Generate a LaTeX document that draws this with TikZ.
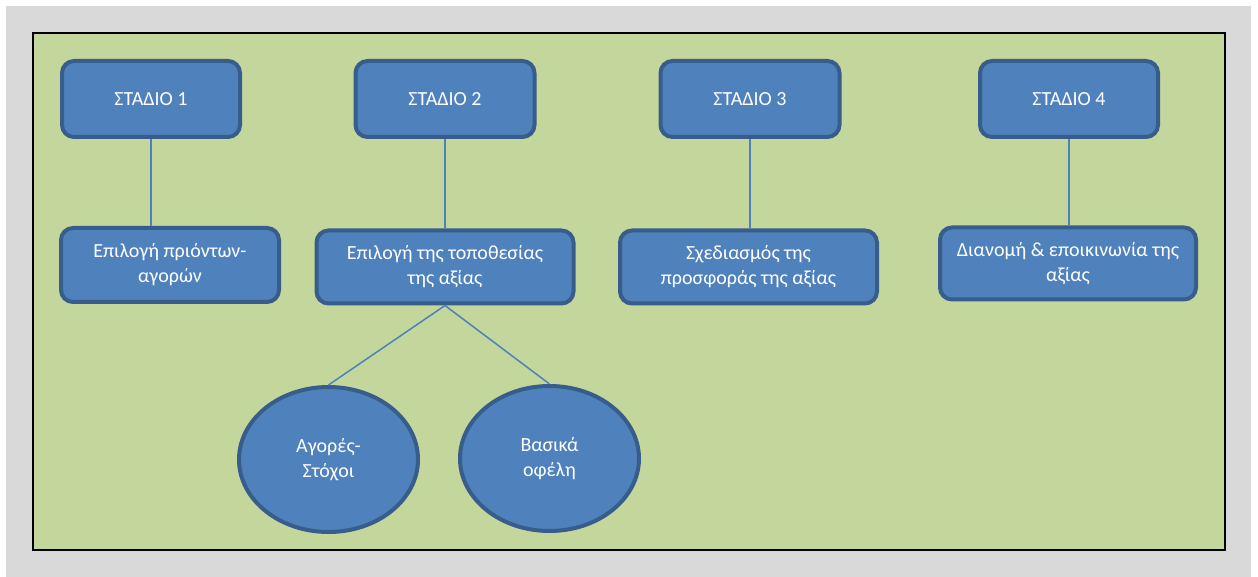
\documentclass[tikz,border=0pt]{standalone}
\usepackage{fontspec}
\setmainfont{Carlito}
\usetikzlibrary{shapes.geometric}
\definecolor{boxblue}{HTML}{4F81BD}
\definecolor{boxedge}{HTML}{385D8A}
\definecolor{panelgreen}{HTML}{C3D69B}
\definecolor{framegray}{HTML}{D9D9D9}
\tikzset{
	stage/.style={draw=boxedge,line width=4pt,fill=boxblue,rounded corners=12pt,text=white,
		font=\fontsize{20}{25}\selectfont,align=center,inner sep=0pt},
	goal/.style={ellipse,draw=boxedge,line width=4pt,fill=boxblue,text=white,
		font=\fontsize{20}{25}\selectfont,align=center,inner sep=0pt,
		minimum width=179pt,minimum height=145pt},
	link/.style={draw=boxblue,line width=1.5pt}
}
\begin{document}
\begin{tikzpicture}[x=1pt,y=-1pt]
	\useasboundingbox (0,0) rectangle (1258,577);
	\fill [white] (0,0) rectangle (1258,577);
	\fill [framegray] (6,6) rectangle (1251,577);
	\draw [line width=2.5pt,fill=panelgreen] (33,33) rectangle (1225,550);
	% stages
	\node [stage,minimum width=178pt,minimum height=76pt] (s1) at (151,99) {ΣΤΑΔΙΟ 1};
	\node [stage,minimum width=179pt,minimum height=76pt] (s2) at (445,99) {ΣΤΑΔΙΟ 2};
	\node [stage,minimum width=179pt,minimum height=76pt] (s3) at (750,99) {ΣΤΑΔΙΟ 3};
	\node [stage,minimum width=178pt,minimum height=76pt] (s4) at (1069,99) {ΣΤΑΔΙΟ 4};
	% steps
	\node [stage,minimum width=218pt,minimum height=74pt] (b1) at (170,265) {Επιλογή πριόντων-\\αγορών};
	\node [stage,minimum width=257pt,minimum height=73pt] (b2) at (445,267) {Επιλογή της τοποθεσίας\\της αξίας};
	\node [stage,minimum width=257pt,minimum height=73pt] (b3) at (748.5,267) {Σχεδιασμός της\\προσφοράς της αξίας};
	\node [stage,minimum width=256pt,minimum height=72pt] (b4) at (1068,263.5) {Διανομή \& εποικινωνία της\\αξίας};
	% targets
	\node [goal] (e1) at (328.5,459.5) {Αγορές-\\Στόχοι};
	\node [goal] (e2) at (549.5,458.5) {Βασικά\\οφέλη};
	\draw [link] (s1.south) -- (s1.south |- b1.north);
	\draw [link] (s2.south) -- (b2.north);
	\draw [link] (s3.south) -- (s3.south |- b3.north);
	\draw [link] (s4.south) -- (s4.south |- b4.north);
	\draw [link] (b2.south) -- (e1.north);
	\draw [link] (b2.south) -- (e2.north);
\end{tikzpicture}
\end{document}
